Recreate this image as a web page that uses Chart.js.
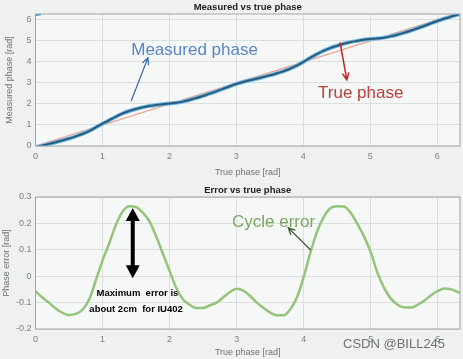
<!DOCTYPE html>
<html>
<head>
<meta charset="utf-8">
<script src="https://cdn.jsdelivr.net/npm/chart.js@4/dist/chart.umd.min.js"></script>
<style>
  html, body { margin: 0; padding: 0; background: #eef0f1; }
  .box { position: relative; width: 463px; }
  #top { height: 180px; }
  #bot { height: 179px; }
</style>
</head>
<body>
<div class="box" id="top"><canvas id="c1"></canvas></div>
<div class="box" id="bot"><canvas id="c2"></canvas></div>
<script>
// true phase samples [rad]
var phase = [0, 0.1, 0.2, 0.3, 0.4, 0.5, 0.6, 0.7, 0.8, 0.9,
             1.0, 1.1, 1.2, 1.3, 1.4, 1.5, 1.6, 1.7, 1.8, 1.9,
             2.0, 2.1, 2.2, 2.3, 2.4, 2.5, 2.6, 2.7, 2.8, 2.9,
             3.0, 3.1, 3.2, 3.3, 3.4, 3.5, 3.6, 3.7, 3.8, 3.9,
             4.0, 4.1, 4.2, 4.3, 4.4, 4.5, 4.6, 4.7, 4.8, 4.9,
             5.0, 5.1, 5.2, 5.3, 5.4, 5.5, 5.6, 5.7, 5.8, 5.9,
             6.0, 6.1, 6.2, 6.3, 6.33];
// measured phase
var measured = [-0.057, 0.02, 0.10, 0.178, 0.262, 0.353, 0.457, 0.573, 0.712, 0.885,
                1.06, 1.225, 1.395, 1.545, 1.665, 1.762, 1.84, 1.908, 1.95, 1.985,
                2.02, 2.055, 2.112, 2.192, 2.28, 2.38, 2.49, 2.60, 2.72, 2.84,
                2.952, 3.045, 3.125, 3.20, 3.28, 3.362, 3.452, 3.552, 3.675, 3.82,
                3.998, 4.19, 4.37, 4.525, 4.658, 4.765, 4.864, 4.94, 4.998, 5.05,
                5.09, 5.112, 5.155, 5.215, 5.292, 5.382, 5.481, 5.592, 5.708, 5.828,
                5.944, 6.053, 6.15, 6.24, 6.268];
// wrapped start of measured phase (top left corner)
var wrapX = [0, 0.08];
var wrapY = [6.226, 6.28];
// reference line
var trueX = [0, 6.33];
var trueY = [0, 6.33];
// cycle error
var cycleErr = [-0.057, -0.08, -0.10, -0.122, -0.138, -0.147, -0.143, -0.127, -0.088, -0.015,
                0.06, 0.125, 0.195, 0.245, 0.265, 0.262, 0.24, 0.208, 0.15, 0.085,
                0.02, -0.045, -0.088, -0.108, -0.12, -0.12, -0.11, -0.10, -0.08, -0.06,
                -0.048, -0.055, -0.075, -0.10, -0.12, -0.138, -0.148, -0.148, -0.125, -0.08,
                -0.002, 0.09, 0.17, 0.225, 0.258, 0.265, 0.264, 0.24, 0.198, 0.15,
                0.09, 0.012, -0.045, -0.085, -0.108, -0.118, -0.119, -0.108, -0.092, -0.072,
                -0.056, -0.047, -0.05, -0.06, -0.062];

var xTicks = [0, 1, 2, 3, 4, 5, 6];
var yTicksTop = [0, 1, 2, 3, 4, 5, 6];
var yTicksBot = [-0.2, -0.1, 0, 0.1, 0.2, 0.3];

function pts(xs, ys) {
  return xs.map(function(x, i) { return { x: x, y: ys[i] }; });
}

function arrow(ctx, x1, y1, x2, y2, color, w, head) {
  var a = Math.atan2(y2 - y1, x2 - x1);
  ctx.save();
  ctx.strokeStyle = color;
  ctx.lineWidth = w;
  ctx.lineCap = 'round';
  ctx.beginPath();
  ctx.moveTo(x1, y1); ctx.lineTo(x2, y2);
  ctx.moveTo(x2 - head * Math.cos(a - 0.45), y2 - head * Math.sin(a - 0.45));
  ctx.lineTo(x2, y2);
  ctx.lineTo(x2 - head * Math.cos(a + 0.45), y2 - head * Math.sin(a + 0.45));
  ctx.stroke();
  ctx.restore();
}

function px(chart, x, y) {
  return [chart.scales.x.getPixelForValue(x), chart.scales.y.getPixelForValue(y)];
}

var frame = {
  id: 'frame',
  beforeDraw: function(chart) {
    var c = chart.ctx, a = chart.chartArea;
    c.save();
    c.fillStyle = '#eef0f1';
    c.fillRect(0, 0, chart.width, chart.height);
    c.fillStyle = '#f6f7f7';
    c.fillRect(a.left, a.top, a.right - a.left, a.bottom - a.top);
    c.restore();
  },
  afterDraw: function(chart) {
    var c = chart.ctx, a = chart.chartArea;
    c.save();
    c.strokeStyle = '#a0a4a6';
    c.lineWidth = 1;
    c.strokeRect(a.left, a.top, a.right - a.left, a.bottom - a.top);
    c.fillStyle = '#222';
    c.font = 'bold 9.5px "Liberation Sans", Arial, sans-serif';
    c.textAlign = 'center';
    c.textBaseline = 'middle';
    c.fillText(chart.options.plotTitle, (a.left + a.right) / 2, a.top - 7);
    c.restore();
  }
};

function baseOptions(title, xMax, yMin, yMax, yTicks, yPad, xH, yFmt) {
  return {
    responsive: true,
    maintainAspectRatio: false,
    animation: false,
    plotTitle: title,
    layout: { padding: { top: yPad, right: 3, left: 0, bottom: 0 } },
    plugins: { legend: { display: false }, tooltip: { enabled: false } },
    elements: { point: { radius: 0 }, line: { cubicInterpolationMode: 'monotone' } },
    scales: {
      x: {
        type: 'linear', min: 0, max: xMax,
        afterBuildTicks: function(s) { s.ticks = xTicks.map(function(v) { return { value: v }; }); },
        afterFit: function(s) { s.height = xH; },
        grid: { color: '#dcdfe0', drawTicks: false },
        border: { display: false },
        ticks: { padding: 5, color: '#7d8285', font: { size: 9, family: '"Liberation Sans", Arial' } },
        title: { display: true, text: 'True phase [rad]', color: '#6f7477',
                 font: { size: 9, family: '"Liberation Sans", Arial' }, padding: { top: 0, bottom: 2 } }
      },
      y: {
        min: yMin, max: yMax,
        afterBuildTicks: function(s) { s.ticks = yTicks.map(function(v) { return { value: v }; }); },
        afterFit: function(s) { s.width = 35.5; },
        grid: { color: '#dcdfe0', drawTicks: false },
        border: { display: false },
        ticks: { padding: 4, color: '#7d8285', font: { size: 9, family: '"Liberation Sans", Arial' },
                 callback: yFmt },
        title: { display: true, text: '', color: '#6f7477',
                 font: { size: 9, family: '"Liberation Sans", Arial' }, padding: 0 }
      }
    }
  };
}

// ---- top chart ----
var opt1 = baseOptions('Measured vs true phase', 6.34, 0, 6.28, yTicksTop, 14, 34,
  function(v) { return String(v); });
opt1.scales.y.title.text = 'Measured phase [rad]';
opt1.scales.y.title.padding = { top: 4, bottom: 0 };

var notesTop = {
  id: 'notesTop',
  afterDraw: function(chart) {
    var c = chart.ctx;
    c.save();
    c.textBaseline = 'middle';
    c.font = '17px "Liberation Sans", Arial, sans-serif';
    c.fillStyle = '#5a86c6';
    var p = px(chart, 1.43, 4.57);
    c.fillText('Measured phase', p[0], p[1]);
    c.fillStyle = '#b8403f';
    p = px(chart, 4.22, 2.52);
    c.fillText('True phase', p[0], p[1]);
    c.restore();
    var a = px(chart, 1.43, 2.15), b = px(chart, 1.68, 4.2);
    arrow(c, a[0], a[1], b[0], b[1], '#3a66a8', 1.2, 7);
    a = px(chart, 4.55, 4.9); b = px(chart, 4.65, 3.15);
    arrow(c, a[0], a[1], b[0], b[1], '#c0282a', 1.5, 7);
  }
};

// datasets drawn last-to-first, so the dark trace is listed first
new Chart(document.getElementById('c1'), {
  type: 'line',
  data: {
    datasets: [
      { data: pts(phase, measured), borderColor: '#2c5a78', borderWidth: 2 },
      { data: pts(phase, measured), borderColor: '#6cbbe9', borderWidth: 4 },
      { data: pts(wrapX, wrapY), borderColor: '#4ea6dc', borderWidth: 2.5 },
      { data: pts(trueX, trueY), borderColor: '#f0a08e', borderWidth: 1.3 }
    ]
  },
  options: opt1,
  plugins: [frame, notesTop]
});

// ---- bottom chart ----
var opt2 = baseOptions('Error vs true phase', 6.33, -0.2, 0.3, yTicksBot, 17, 30,
  function(v) { return String(Math.round(v * 10) / 10); });
opt2.scales.y.title.text = 'Phase error [rad]';
opt2.scales.y.title.padding = { top: 1, bottom: 0 };
opt2.scales.x.title.padding = { top: 0, bottom: 1 };

var notesBot = {
  id: 'notesBot',
  afterDraw: function(chart) {
    var c = chart.ctx;
    c.save();
    c.textBaseline = 'middle';
    c.font = '17px "Liberation Sans", Arial, sans-serif';
    c.fillStyle = '#7aa860';
    var p = px(chart, 2.93, 0.204);
    c.fillText('Cycle error', p[0], p[1]);
    c.restore();
    var a = px(chart, 4.1, 0.1), b = px(chart, 3.77, 0.183);
    arrow(c, a[0], a[1], b[0], b[1], '#3f5c30', 1.3, 7);

    // double arrow
    var t = px(chart, 1.45, 0.258), d = px(chart, 1.45, -0.008);
    c.save();
    c.strokeStyle = '#000'; c.fillStyle = '#000'; c.lineWidth = 4;
    c.beginPath(); c.moveTo(t[0], t[1] + 9); c.lineTo(d[0], d[1] - 9); c.stroke();
    c.beginPath(); c.moveTo(t[0], t[1]); c.lineTo(t[0] - 7, t[1] + 13); c.lineTo(t[0] + 7, t[1] + 13); c.closePath(); c.fill();
    c.beginPath(); c.moveTo(d[0], d[1]); c.lineTo(d[0] - 7, d[1] - 13); c.lineTo(d[0] + 7, d[1] - 13); c.closePath(); c.fill();
    c.font = 'bold 9.5px "Liberation Sans", Arial, sans-serif';
    c.textAlign = 'center'; c.textBaseline = 'middle';
    p = px(chart, 1.52, -0.065);
    c.fillText('Maximum  error is', p[0], p[1]);
    p = px(chart, 1.5, -0.125);
    c.fillText('about 2cm  for IU402', p[0], p[1]);
    c.font = '13px "Liberation Sans", Arial, sans-serif';
    c.fillStyle = '#6f7477';
    c.textAlign = 'left';
    c.fillText('CSDN @BILL245', 343, 164);
    c.restore();
  }
};

new Chart(document.getElementById('c2'), {
  type: 'line',
  data: {
    datasets: [
      { data: pts(phase, cycleErr), borderColor: '#93c47a', borderWidth: 2.5 }
    ]
  },
  options: opt2,
  plugins: [frame, notesBot]
});
</script>
</body>
</html>
